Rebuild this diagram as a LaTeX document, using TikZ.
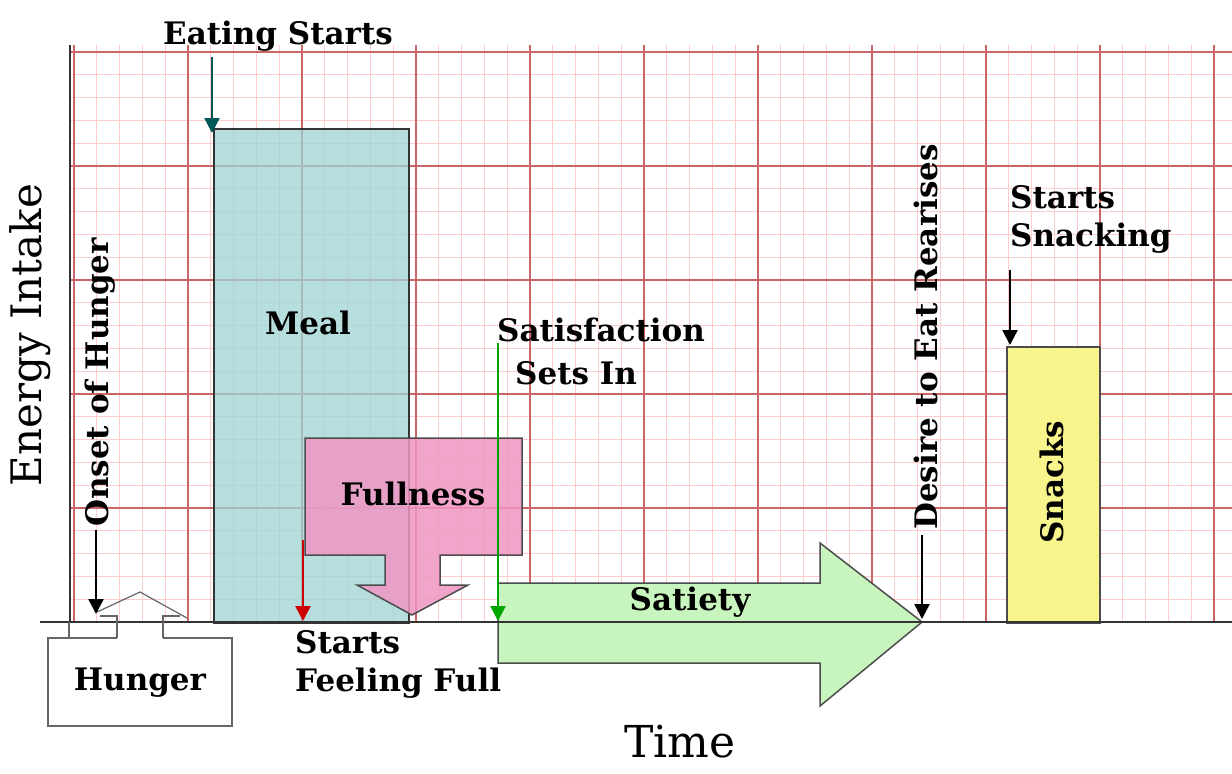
\documentclass[tikz,border=0pt]{standalone}
\usepackage{fontspec}
\setmainfont{DejaVu Serif}
\usetikzlibrary{arrows.meta}
\definecolor{mealc}{RGB}{160,212,212}
\definecolor{fullc}{RGB}{240,150,195}
\definecolor{satc}{RGB}{200,245,190}
\definecolor{snackc}{RGB}{248,245,140}
\begin{document}
\begin{tikzpicture}[x=1pt,y=-1pt,
  lbl/.style={font=\bfseries\fontsize{31}{36}\selectfont,inner sep=0pt},
  arr/.style={line width=2.5pt,-{Triangle[width=15pt,length=15pt]}}]
\useasboundingbox (0,0) rectangle (1232,774);
\fill[white] (0,0) rectangle (1232,774);
% grid
\foreach \i in {0,...,50} {\draw[red!20,line width=1pt] ({74+22.8*\i},45) -- ({74+22.8*\i},622);}
\foreach \i in {0,...,25} {\draw[red!20,line width=1pt] (70,{52+22.8*\i}) -- (1232,{52+22.8*\i});}
\foreach \i in {0,...,10} {\draw[red!50!gray!80,line width=1.3pt] ({74+114*\i},45) -- ({74+114*\i},622);}
\foreach \i in {0,...,5} {\draw[red!50!gray!80,line width=1.3pt] (70,{52+114*\i}) -- (1232,{52+114*\i});}
% shapes
\node[draw=black!80,line width=1.5pt,fill=mealc,fill opacity=0.75,draw opacity=1,minimum width=195pt,minimum height=494pt,anchor=north west,inner sep=0pt] (meal) at (213,128) {};
\draw[black!70,line width=1.5pt,fill=fullc,fill opacity=0.85] (305,438) -- (522,438) -- (522,555) -- (440,555) -- (440,585) -- (468,585) -- (412,615) -- (357,585) -- (385,585) -- (385,555) -- (305,555) -- cycle;
\draw[black!70,line width=1.5pt,fill=satc] (498,583) -- (820,583) -- (820,543) -- (922,622) -- (820,706) -- (820,663) -- (498,663) -- cycle;
\node[draw=black!70,line width=1.5pt,fill=snackc,minimum width=93pt,minimum height=276pt,anchor=north west,inner sep=0pt] (snack) at (1006,346) {};
% axes
\draw[black!80,line width=2pt] (70,45) -- (70,622);
\draw[black!80,line width=2pt] (40,622) -- (1232,622);
% hunger box
\draw[black!60,line width=1.2pt] (117,638) -- (48,638) -- (48,726) -- (232,726) -- (232,638) -- (163,638);
\draw[black!60,line width=1.2pt] (69,622) -- (69,638);
\draw[black!60,line width=1.2pt] (117,638) -- (117,616) -- (100,616);
\draw[black!60,line width=1.2pt] (163,638) -- (163,616) -- (180,616);
\draw[black!60,line width=1.2pt] (97,612) -- (140,592) -- (187,618);
\node[lbl] (hunger) at (140,683) {Hunger};
% labels
\node[lbl] (meal-l) at (308,323) {Meal};
\node[lbl] (full-l) at (413,494) {Fullness};
\node[lbl] (sat-l) at (690,602) {Satiety};
\node[lbl,rotate=90] (snack-l) at (1052,482) {Snacks};
\node[lbl] (eat) at (278,36) {Eating Starts};
\node[lbl,rotate=90,anchor=west] (onset) at (100,527) {Onset of Hunger};
\node[lbl,rotate=90,anchor=west] (desire) at (926,530) {Desire to Eat Rearises};
\node[lbl,anchor=north west,align=left] (sff) at (295,630) {Starts\\[2pt]Feeling Full};
\node[lbl,anchor=west] (sat1) at (497,330) {Satisfaction};
\node[lbl,anchor=west] (sat2) at (515,373) {Sets In};
\node[lbl,anchor=north west,align=left] (ss) at (1010,185) {Starts\\[2pt]Snacking};
\node[font=\fontsize{42}{44}\selectfont,rotate=90] (ei) at (30,335) {Energy Intake};
\node[font=\fontsize{44}{46}\selectfont] (time) at (680,742) {Time};
% arrows
\coordinate (a1s) at (96,530); \coordinate (a1e) at (96,614);
\draw[arr,black] (a1s) -- (a1e);
\coordinate (a2s) at (212,57); \coordinate (a2e) at (212,133);
\draw[arr,teal!70!black] (a2s) -- (a2e);
\coordinate (a3s) at (303,540); \coordinate (a3e) at (303,621);
\draw[arr,red!80!black] (a3s) -- (a3e);
\coordinate (a4s) at (498,343); \coordinate (a4e) at (498,621);
\draw[arr,green!65!black] (a4s) -- (a4e);
\coordinate (a5s) at (922,535); \coordinate (a5e) at (922,619);
\draw[arr,black] (a5s) -- (a5e);
\coordinate (a6s) at (1010,270); \coordinate (a6e) at (1010,345);
\draw[arr,black] (a6s) -- (a6e);
\end{tikzpicture}
\end{document}
